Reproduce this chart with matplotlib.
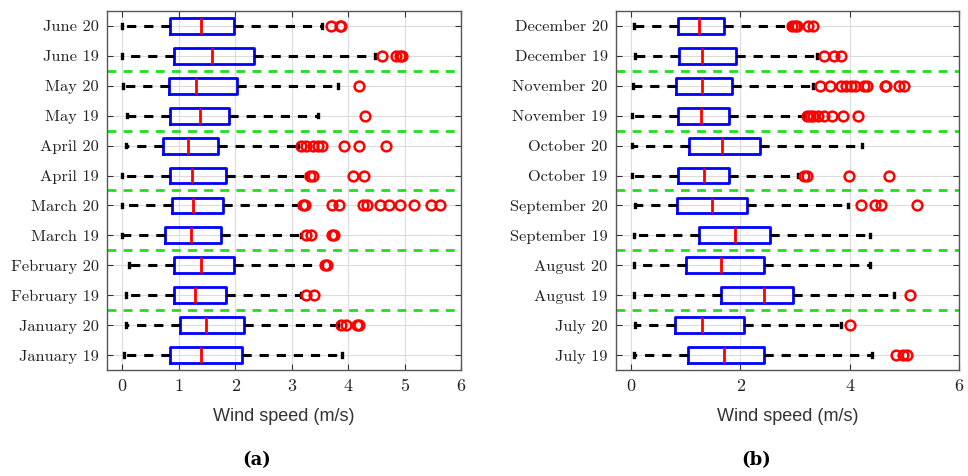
import matplotlib
matplotlib.use("Agg")
import matplotlib.pyplot as plt

# ---- Panel (a): January - June, 2019 vs 2020 (bottom to top) ----
labels_a = ["January 19", "January 20", "February 19", "February 20",
            "March 19", "March 20", "April 19", "April 20",
            "May 19", "May 20", "June 19", "June 20"]
wlo_a = [0.04, 0.07, 0.07, 0.12, 0.00, 0.00, 0.00, 0.06, 0.09, 0.02, 0.00, 0.00]
q1_a = [0.85, 1.02, 0.91, 0.91, 0.75, 0.88, 0.85, 0.72, 0.85, 0.83, 0.91, 0.85]
med_a = [1.40, 1.49, 1.29, 1.39, 1.21, 1.26, 1.24, 1.17, 1.37, 1.31, 1.59, 1.39]
q3_a = [2.13, 2.15, 1.84, 1.98, 1.75, 1.79, 1.83, 1.70, 1.90, 2.03, 2.34, 1.98]
whi_a = [3.90, 3.82, 3.16, 3.53, 3.17, 3.14, 3.25, 3.12, 3.46, 3.82, 4.47, 3.54]
fl_a = [
    [],
    [3.87, 3.97, 4.15, 4.20],
    [3.26, 3.40],
    [3.59, 3.63],
    [3.26, 3.35, 3.71, 3.75],
    [3.20, 3.23, 3.72, 3.84, 4.27, 4.34, 4.56, 4.73, 4.92, 5.16, 5.47, 5.63],
    [3.32, 3.38, 4.09, 4.29],
    [3.17, 3.26, 3.38, 3.47, 3.53, 3.92, 4.19, 4.67],
    [4.30],
    [4.19],
    [4.60, 4.85, 4.92, 4.95],
    [3.70, 3.85, 3.88],
]

# ---- Panel (b): July - December, 2019 vs 2020 (bottom to top) ----
labels_b = ["July 19", "July 20", "August 19", "August 20",
            "September 19", "September 20", "October 19", "October 20",
            "November 19", "November 20", "December 19", "December 20"]
wlo_b = [0.05, 0.07, 0.06, 0.06, 0.06, 0.08, 0.02, 0.02, 0.02, 0.04, 0.07, 0.05]
q1_b = [1.04, 0.81, 1.65, 1.00, 1.25, 0.85, 0.87, 1.07, 0.86, 0.83, 0.89, 0.86]
med_b = [1.71, 1.31, 2.44, 1.65, 1.91, 1.48, 1.33, 1.66, 1.28, 1.31, 1.31, 1.25]
q3_b = [2.44, 2.07, 2.96, 2.44, 2.55, 2.12, 1.80, 2.36, 1.80, 1.85, 1.93, 1.70]
whi_b = [4.41, 3.85, 4.81, 4.38, 4.38, 3.97, 3.06, 4.23, 3.18, 3.34, 3.40, 2.89]
fl_b = [
    [4.85, 4.97, 5.05],
    [4.01],
    [5.10],
    [],
    [],
    [4.21, 4.46, 4.58, 5.23],
    [3.17, 3.23, 3.99, 4.72],
    [],
    [3.23, 3.27, 3.33, 3.42, 3.54, 3.67, 3.88, 4.15],
    [3.45, 3.64, 3.85, 3.94, 4.03, 4.10, 4.26, 4.32, 4.64, 4.67, 4.90, 5.00],
    [3.53, 3.71, 3.84],
    [2.95, 3.00, 3.04, 3.24, 3.33],
]

SERIF = ["cmr10", "DejaVu Serif"]


def draw_panel(ax, labels, wlo, q1, med, q3, whi, fliers, xticks):
    stats = []
    for i in range(len(labels)):
        stats.append(dict(label=labels[i], whislo=wlo[i], q1=q1[i], med=med[i],
                          q3=q3[i], whishi=whi[i], fliers=fliers[i]))
    pos = list(range(1, len(labels) + 1))
    ax.bxp(stats, positions=pos, orientation="horizontal", widths=0.53,
           capwidths=0.12, showfliers=True, patch_artist=False,
           boxprops=dict(color="#0000ff", linewidth=2.0),
           medianprops=dict(color="#ff0000", linewidth=2.0),
           whiskerprops=dict(color="black", linewidth=2.2,
                             linestyle=(0, (3.0, 2.6))),
           capprops=dict(color="black", linewidth=2.4),
           flierprops=dict(marker="o", markerfacecolor="none",
                           markeredgecolor="#ff0000", markersize=7,
                           markeredgewidth=1.8, linestyle="none"),
           zorder=3)
    # separators between month pairs
    for k in range(2, len(labels), 2):
        ax.axhline(k + 0.5, color="#22dd22", linewidth=2.0,
                   linestyle=(0, (3.2, 2.6)), zorder=2)
    ax.set_ylim(0.5, len(labels) + 0.5)
    ax.set_xlim(-0.27, 6)
    ax.set_xticks(xticks)
    ax.set_xticklabels([str(t) for t in xticks], fontfamily=SERIF, fontsize=13)
    ax.set_yticks(pos)
    ax.set_yticklabels(labels, fontfamily=SERIF, fontsize=11.8)
    ax.grid(True, color="#dcdcdc", linewidth=0.8, zorder=0)
    ax.set_axisbelow(True)
    ax.tick_params(direction="in", top=True, right=True, length=4,
                   width=0.8, color="#333333", labelcolor="#222222", pad=6)
    for s in ax.spines.values():
        s.set_color("#555555")
        s.set_linewidth(1.0)
    ax.set_xlabel("Wind speed (m/s)", fontfamily="Liberation Sans",
                  fontsize=13, color="#333333", labelpad=10)


fig = plt.figure(figsize=(9.68, 4.76), dpi=100)
ax1 = fig.add_axes([0.1105, 0.2227, 0.3657, 0.7542])
ax2 = fig.add_axes([0.6364, 0.2227, 0.3543, 0.7542])

draw_panel(ax1, labels_a, wlo_a, q1_a, med_a, q3_a, whi_a, fl_a,
           [0, 1, 2, 3, 4, 5, 6])
draw_panel(ax2, labels_b, wlo_b, q1_b, med_b, q3_b, whi_b, fl_b,
           [0, 2, 4, 6])

fig.text(257 / 968, 1 - 460 / 476, "(a)", ha="center", va="center",
         fontfamily="DejaVu Serif", fontweight="bold", fontsize=13)
fig.text(756 / 968, 1 - 460 / 476, "(b)", ha="center", va="center",
         fontfamily="DejaVu Serif", fontweight="bold", fontsize=13)

fig.savefig("out.png", dpi=100)
